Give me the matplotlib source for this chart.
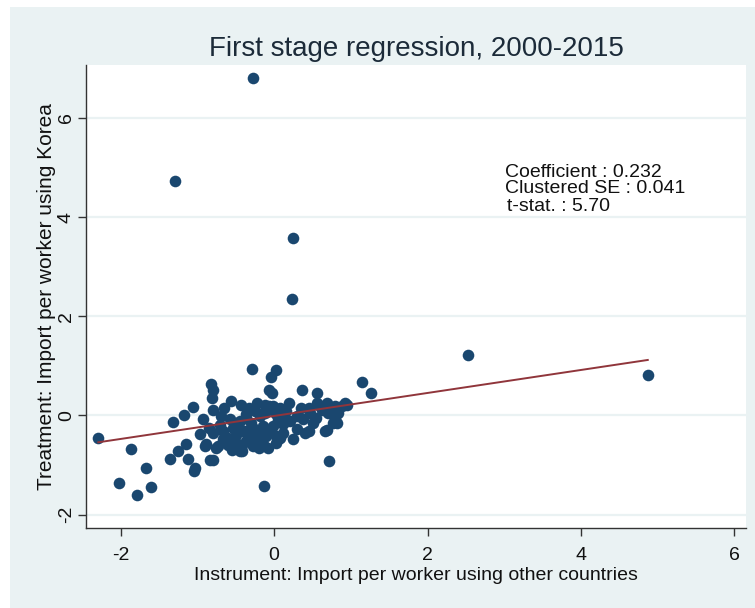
import numpy as np
import matplotlib
matplotlib.use("Agg")
import matplotlib.pyplot as plt
from matplotlib.patches import Rectangle
from matplotlib import font_manager

# Instrument (x) and treatment (y) per industry
instrument = [
    -0.28, -1.29, 0.25, 0.24, 2.53, 4.87,
    -2.29, -1.86, -2.02, -1.79, -1.60, -1.67,
    -1.31, -1.17, -1.05, -1.36, -1.25, -1.15, -1.12, -1.04,
    -0.82, -0.80, -0.80, -0.93, -0.69, -0.83, -0.79,
    -0.56, -0.43, -0.29, -0.04, 0.02, -0.07, -0.02,
    -0.13, 0.36, 0.56, 0.72, 1.14, 1.26,
    0.69, 0.25, 0.05, -0.44, -0.75, -0.90, -0.96,
    0.08, 0.21, 0.40, 0.51, 0.82, 0.95,
    -0.81, -0.88, -0.73, -0.79, -0.66, -0.60, -0.53, -0.49, -0.42, -0.44,
    -0.38, -0.36, -0.57, -0.66,
    -0.12, -0.01, -0.25, -0.36, -0.18, 0.03, 0.30, -0.40, -0.27, -0.14,
    -0.01, 0.12, -0.36, -0.23, -0.10, 0.03, -0.27, -0.14, 0.03, 0.12,
    0.56, 0.69, 0.80, 0.93, 0.62, 0.47, 0.38, 0.30, 0.45, 0.66,
    0.80, 0.84, 0.08, -0.25, -0.07, -0.14, 0.03, 0.12, 0.77, 0.73,
    0.88, 0.60, 0.70, 0.55,
    -0.50, -0.30, -0.20, -0.05, 0.05, -0.60, -0.50, -0.30, -0.20, -0.08,
    -0.45, -0.70, -0.85, -0.55, -0.32, -0.22, 0.15, 0.20, -0.65, 0.45,
    0.35, -1.03, -0.42, -0.12,
]
treatment = [
    6.80, 4.73, 3.59, 2.34, 1.21, 0.81,
    -0.46, -0.67, -1.37, -1.61, -1.44, -1.05,
    -0.13, 0.01, 0.17, -0.87, -0.72, -0.57, -0.87, -1.13,
    0.64, 0.51, 0.11, -0.08, -0.01, -0.90, -0.90,
    0.29, 0.21, 0.94, 0.78, 0.91, 0.52, 0.46,
    -1.42, 0.51, 0.46, -0.91, 0.67, 0.46,
    -0.30, -0.48, -0.48, -0.72, -0.65, -0.62, -0.38,
    0.16, -0.11, -0.35, -0.15, -0.15, 0.22,
    0.36, -0.58, -0.62, -0.35, -0.32, -0.45, -0.25, -0.55, -0.72, -0.11,
    -0.32, 0.02, -0.08, -0.48,
    0.22, 0.19, 0.09, -0.05, -0.01, 0.02, -0.01, -0.32, -0.25, -0.21,
    -0.21, -0.18, -0.52, -0.48, -0.42, -0.42, -0.62, -0.58, -0.55, -0.35,
    0.26, 0.26, 0.19, 0.26, 0.12, 0.05, -0.08, -0.28, -0.32, -0.32,
    -0.08, 0.05, -0.45, -0.52, 0.19, 0.05, 0.05, -0.01, -0.15, 0.15,
    0.20, 0.20, 0.05, -0.05,
    -0.15, -0.15, -0.35, -0.30, -0.10, -0.60, -0.40, -0.40, -0.65, -0.65,
    -0.60, -0.20, -0.25, -0.70, 0.15, 0.25, 0.10, 0.25, 0.15, 0.15,
    0.15, -1.05, -0.60, 0.05,
]

# First-stage fit
slope = 0.232
intercept = -0.01
clustered_se = 0.041
t_stat = 5.70

x_ticks = [-2, 0, 2, 4, 6]
y_ticks = [-2, 0, 2, 4, 6]

title = "First stage regression, 2000-2015"
x_label = "Instrument: Import per worker using other countries"
y_label = "Treatment: Import per worker using Korea"

installed = {f.name for f in font_manager.fontManager.ttflist}
family = ["Liberation Sans Narrow", "Liberation Sans", "DejaVu Sans"]
family = [f for f in family if f in installed] or ["DejaVu Sans"]
plt.rcParams["font.family"] = family

W, H = 755, 608
fig = plt.figure(figsize=(W / 100, H / 100), dpi=100, facecolor="white")

# Outer graph region
bg = "#EAF2F3"
fig.patches.append(Rectangle((10 / W, 0), 1 - 10 / W, 1 - 7 / H,
                             transform=fig.transFigure, facecolor=bg,
                             edgecolor="none", zorder=-10))

ax_l, ax_r, ax_t, ax_b = 86, 746, 65, 528
ax = fig.add_axes([ax_l / W, (H - ax_b) / H, (ax_r - ax_l) / W, (ax_b - ax_t) / H])
ax.set_facecolor("white")

x = np.array(instrument)
y = np.array(treatment)

ax.set_xlim(-2.45, 6.15)
ax.set_ylim(-2.27, 7.07)

# Horizontal grid at the y ticks
for yt in y_ticks:
    ax.axhline(yt, color=bg, lw=1.6, zorder=0)

ax.scatter(x, y, s=70, color="#1A476F", linewidths=0, zorder=3)

xs = np.array([x.min(), x.max()])
ax.plot(xs, intercept + slope * xs, color="#90353B", lw=1.4, zorder=4)

for s in ["top", "right"]:
    ax.spines[s].set_visible(False)
for s in ["left", "bottom"]:
    ax.spines[s].set_color("#333333")
    ax.spines[s].set_linewidth(1.0)

ax.set_xticks(x_ticks)
ax.set_yticks(y_ticks)
ax.set_xticklabels([str(t) for t in x_ticks])
ax.set_yticklabels([str(t) for t in y_ticks], rotation=90, va="center")
ax.tick_params(axis="both", direction="out", length=6, width=1.0,
               color="#333333", labelsize=14, labelcolor="#111111")
ax.tick_params(axis="x", pad=8)
ax.tick_params(axis="y", pad=2)

ax.set_xlabel(x_label, fontsize=14, color="#111111", labelpad=2)
ax.set_ylabel(y_label, fontsize=15, color="#111111", labelpad=1)

fig.text((ax_l + ax_r) / 2 / W, 1 - 56 / H, title, ha="center", va="baseline",
         fontsize=20, color="#1c2b39")

ax.text(3.01, 4.82, f"Coefficient : {slope:.3f}", fontsize=14, color="#111111",
        va="baseline", ha="left")
ax.text(3.01, 4.48, f"Clustered SE : {clustered_se:.3f}", fontsize=14,
        color="#111111", va="baseline", ha="left")
ax.text(3.03, 4.12, f"t-stat. : {t_stat:.2f}", fontsize=14, color="#111111",
        va="baseline", ha="left")

fig.savefig("out.png", dpi=100, facecolor="white")
